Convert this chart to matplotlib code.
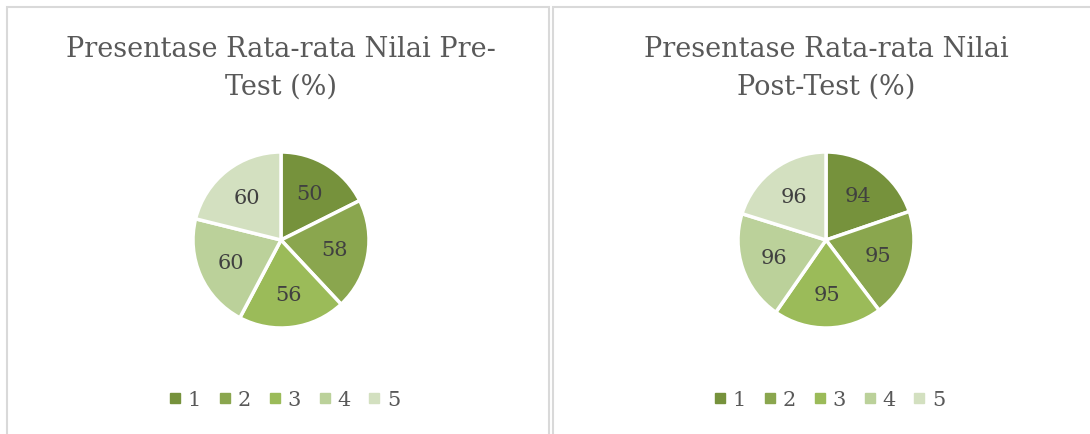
import matplotlib
matplotlib.use('Agg')
import matplotlib.pyplot as plt
from matplotlib.patches import Rectangle
from matplotlib.lines import Line2D
import numpy as np

categories = ['1', '2', '3', '4', '5']
pre_values = [50, 58, 56, 60, 60]
post_values = [94, 95, 95, 96, 96]
titles = ['Presentase Rata-rata Nilai Pre-\nTest (%)',
          'Presentase Rata-rata Nilai\nPost-Test (%)']
colors = ['#76923C', '#8AA64E', '#9BBB59', '#BBD19A', '#D3E0C0']

W, H = 1090, 435
FONT = 'DejaVu Serif'
TXT = '#595959'

fig = plt.figure(figsize=(W / 100, H / 100), dpi=100)


def px(x, y):
    # pixel coords (top-left origin) -> figure fraction
    return x / W, 1 - y / H


# panel frames
for x0, x1 in [(7, 549), (553, 1100)]:
    fig.patches.append(Rectangle((x0 / W, -0.1), (x1 - x0) / W, 1.1 - 8 / H,
                                 transform=fig.transFigure, fill=False,
                                 edgecolor='#D9D9D9', linewidth=1.5))


def draw_pie(cx, cy, r, values, title):
    ax = fig.add_axes([(cx - r) / W, (H - cy - r) / H, 2 * r / W, 2 * r / H])
    wedges, _ = ax.pie(values, colors=colors, startangle=90, counterclock=False,
                       wedgeprops=dict(edgecolor='white', linewidth=2.5))
    for w, v in zip(wedges, values):
        ang = np.deg2rad((w.theta1 + w.theta2) / 2)
        ax.text(0.62 * np.cos(ang), 0.62 * np.sin(ang), str(v), ha='center',
                va='center', fontsize=15, color='#404040', family=FONT)
    ax.set_xlim(-1, 1)
    ax.set_ylim(-1, 1)
    ax.axis('off')

    tx, ty = px(cx, 68)
    fig.text(tx, ty, title, ha='center', va='center', fontsize=19.5,
             color=TXT, family=FONT, linespacing=1.5)

    handles = [Line2D([], [], marker='s', linestyle='none', markersize=6.5,
                      color=c) for c in colors]
    lx, ly = px(cx + 2, 401)
    fig.legend(handles, categories, loc='center', bbox_to_anchor=(lx, ly),
               ncol=5, frameon=False, handletextpad=0.15, columnspacing=0.7,
               handlelength=0.9, prop=dict(family=FONT, size=15),
               labelcolor=TXT)


draw_pie(281, 241, 88, pre_values, titles[0])
draw_pie(826, 241, 88, post_values, titles[1])

fig.savefig('out.png', dpi=100)
